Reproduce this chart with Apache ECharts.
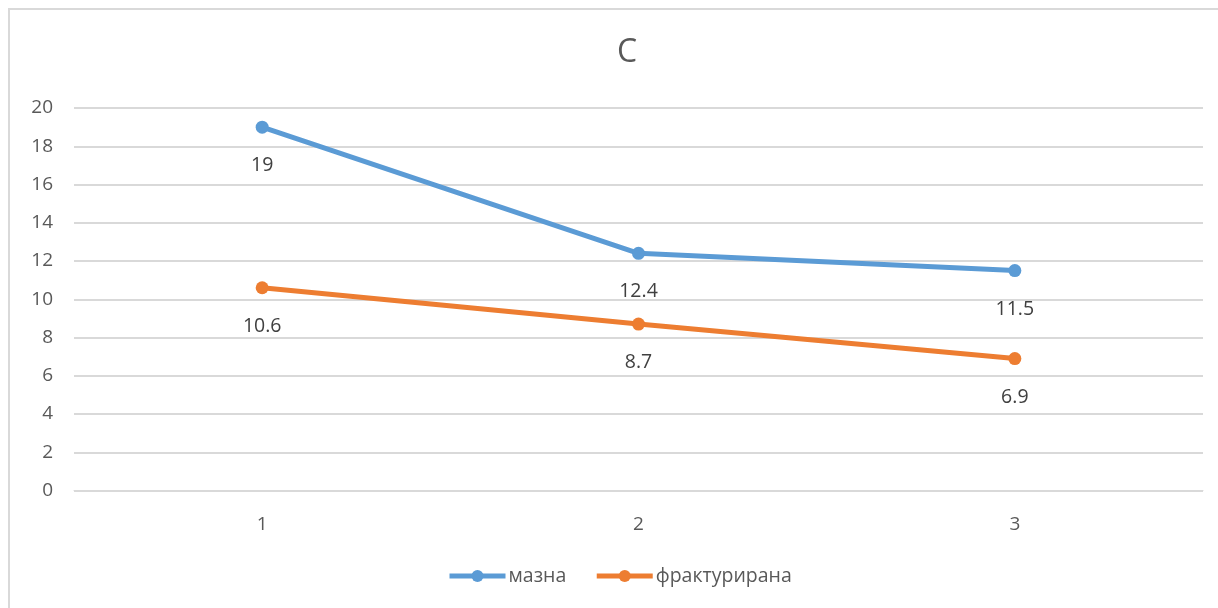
<!DOCTYPE html>
<html>
<head>
<meta charset="utf-8">
<script src="https://cdn.jsdelivr.net/npm/echarts@6/dist/echarts.min.js"></script>
<style>
html,body{margin:0;padding:0;background:#fff;}
#chart{width:1218px;height:608px;}
</style>
</head>
<body>
<div id="chart"></div>
<script>
const categories = ['1', '2', '3'];
const seriesNames = ['мазна', 'фрактурирана'];
const smoothValues = [19, 12.4, 11.5];
const fracturedValues = [10.6, 8.7, 6.9];
const yTicks = { min: 0, max: 20, interval: 2 };

const FONT = 'Open Sans';
const BLUE = '#5B9BD5', ORANGE = '#ED7D31';
const chart = echarts.init(document.getElementById('chart'));
const labelStyle = {
  show: true, position: 'bottom', distance: 22,
  color: '#404040', fontSize: 19.5, fontFamily: FONT
};
chart.setOption({
  animation: false,
  backgroundColor: '#fff',
  title: {
    text: 'C', left: 622, top: 32, textAlign: 'center',
    textStyle: { color: '#595959', fontSize: 32, fontWeight: 'normal', fontFamily: FONT }
  },
  graphic: [{
    type: 'rect', silent: true,
    shape: { x: 9, y: 9, width: 1400, height: 800 },
    style: { fill: 'none', stroke: '#d9d9d9', lineWidth: 2 }
  }],
  legend: {
    bottom: 17, left: 442, itemWidth: 56, itemHeight: 15, itemGap: 28,
    textStyle: { color: '#595959', fontSize: 19.5, fontFamily: FONT, padding: [0, 0, 0, -2] },
    data: [
      { name: seriesNames[0], itemStyle: { color: BLUE }, lineStyle: { color: BLUE, width: 5 } },
      { name: seriesNames[1], itemStyle: { color: ORANGE }, lineStyle: { color: ORANGE, width: 5 } }
    ]
  },
  grid: { left: 74, right: 15, top: 108, bottom: 117.5, containLabel: false },
  xAxis: {
    type: 'category', data: categories, boundaryGap: true,
    axisLine: { show: true, lineStyle: { color: '#d9d9d9', width: 1 } },
    axisTick: { show: false },
    axisLabel: { color: '#595959', fontSize: 19, fontFamily: FONT, margin: 25 }
  },
  yAxis: {
    type: 'value', min: yTicks.min, max: yTicks.max, interval: yTicks.interval,
    axisLine: { show: false }, axisTick: { show: false },
    axisLabel: { color: '#595959', fontSize: 19, fontFamily: FONT, margin: 21 },
    splitLine: { lineStyle: { color: '#d9d9d9', width: 2 } }
  },
  series: [
    {
      name: seriesNames[0], type: 'line', data: smoothValues,
      symbol: 'circle', symbolSize: 13,
      lineStyle: { color: BLUE, width: 5 },
      itemStyle: { color: BLUE },
      label: labelStyle
    },
    {
      name: seriesNames[1], type: 'line', data: fracturedValues,
      symbol: 'circle', symbolSize: 13,
      lineStyle: { color: ORANGE, width: 5 },
      itemStyle: { color: ORANGE },
      label: labelStyle
    }
  ]
});
</script>
</body>
</html>
